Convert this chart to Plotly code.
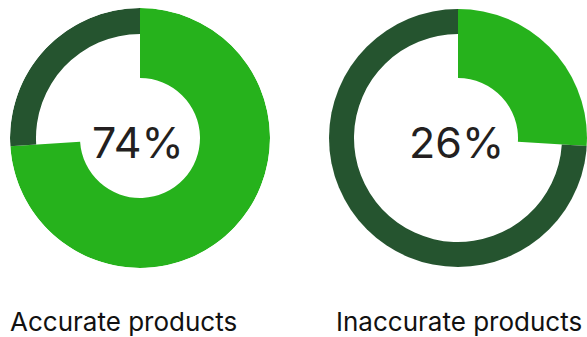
import plotly.graph_objects as go

categories = ["Accurate products", "Inaccurate products"]
percent_accurate = [74, 26]          # share shown in green per chart
labels_pct = ["74%", "26%"]

GREEN = "#26B21C"
DARK = "#25542F"

W, H = 587, 337
fig = go.Figure()

# pixel geometry of the two dials
centers_x = [140, 458]
center_y = 138
R = 130

for i, p in enumerate(percent_accurate):
    pid = "polar" if i == 0 else f"polar{i+1}"
    g_deg = p * 3.6
    d_deg = (100 - p) * 3.6
    fig.add_trace(go.Barpolar(
        r=[70], base=[60], theta=[g_deg / 2], width=[g_deg],
        marker=dict(color=GREEN, line=dict(width=0)),
        subplot=pid, showlegend=False, hoverinfo="skip"))
    fig.add_trace(go.Barpolar(
        r=[26], base=[104], theta=[g_deg + d_deg / 2], width=[d_deg],
        marker=dict(color=DARK, line=dict(width=0)),
        subplot=pid, showlegend=False, hoverinfo="skip"))
    cx = centers_x[i]
    half = min(R, W - cx)
    x0 = (cx - half) / W
    x1 = (cx + half) / W
    y0 = 1 - (center_y + R) / H
    y1 = 1 - (center_y - R) / H
    fig.update_layout(**{pid: dict(
        domain=dict(x=[x0, x1], y=[y0, y1]),
        bgcolor="rgba(0,0,0,0)",
        radialaxis=dict(visible=False, range=[0, 130 * half / R if half < R else 130]),
        angularaxis=dict(visible=False, rotation=90, direction="clockwise"),
        barmode="overlay",
    )})
    fig.add_annotation(x=(cx - 2) / W, y=1 - 142 / H, xref="paper", yref="paper",
                       text=labels_pct[i], showarrow=False,
                       font=dict(family="Inter", size=43, color="#231F20"),
                       xanchor="center", yanchor="middle")

label_x = [123.5, 458.5]
for i, c in enumerate(categories):
    fig.add_annotation(x=label_x[i] / W, y=1 - 321 / H, xref="paper", yref="paper",
                       text=c, showarrow=False,
                       font=dict(family="Inter", size=26, color="#111111"),
                       xanchor="center", yanchor="middle")

fig.update_layout(width=W, height=H, margin=dict(l=0, r=0, t=0, b=0),
                  paper_bgcolor="white", plot_bgcolor="white")
fig.write_html("out.html", config={"displayModeBar": False},
               post_script="document.body.style.margin='0';document.body.style.overflow='hidden';")
